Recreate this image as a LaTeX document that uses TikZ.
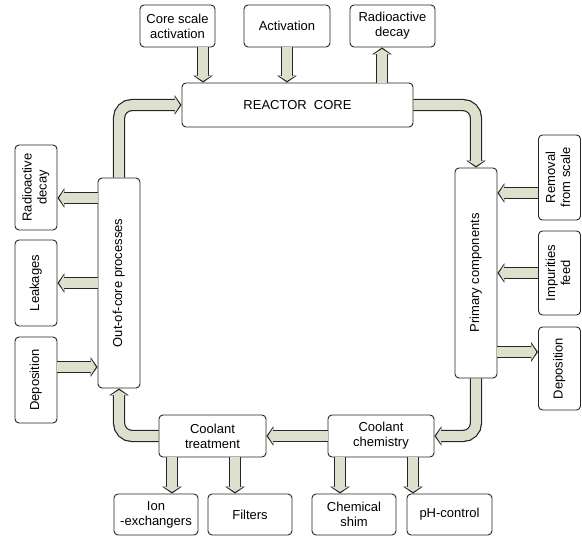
\documentclass[tikz,border=0pt]{standalone}
\usepackage{fontspec}
\setmainfont{Liberation Sans}
\usepackage{graphicx}
\usetikzlibrary{arrows.meta}
\definecolor{flowfill}{RGB}{221,224,204}
\newcommand{\vlab}[1]{\rotatebox{90}{\begin{tabular}{@{}c@{}}#1\end{tabular}}}

\begin{document}
\begin{tikzpicture}[x=1pt,y=-1pt,
		box node/.style={draw=black!85,line width=0.9pt,rounded corners=4pt,fill=white,align=center,inner sep=1pt,font=\fontsize{13}{15}\selectfont},
		flow arrow/.style={draw=flowfill,line width=9.8pt,rounded corners=13pt,shorten >=1.6pt,-{Triangle[width=15.5pt,length=5pt]},
			preaction={draw=black!85,line width=12.2pt,shorten >=0pt,-{Triangle[width=19.5pt,length=7pt]}}}]
		\useasboundingbox (0,0) rectangle (582,538);
		% core and its inputs
		\node[box node,minimum width=231pt,minimum height=44pt] (core) at (297.5,105) {REACTOR\ \ CORE};
		\node[box node,minimum width=75pt,minimum height=42pt] (csa) at (177.5,26) {Core scale\\activation};
		\node[box node,minimum width=86pt,minimum height=42pt] (act) at (287,26) {Activation};
		\node[box node,minimum width=85pt,minimum height=42pt] (rdtop) at (392.5,26) {Radioactive\\decay};
		% primary side
		\node[box node,minimum width=42pt,minimum height=210pt] (prim) at (476,273) {\vlab{Primary components}};
		\node[box node,minimum width=42pt,minimum height=85pt] (removal) at (559.5,177.5) {\vlab{Removal\\from scale}};
		\node[box node,minimum width=42pt,minimum height=84pt] (imp) at (559.5,273) {\vlab{Impurities\\feed}};
		\node[box node,minimum width=42pt,minimum height=83pt] (depR) at (559.5,368.5) {\vlab{Deposition}};
		% out-of-core side
		\node[box node,minimum width=42pt,minimum height=210pt] (outcore) at (119,283) {\vlab{Out-of-core processes}};
		\node[box node,minimum width=42pt,minimum height=85pt] (rdleft) at (36,187.5) {\vlab{Radioactive\\decay}};
		\node[box node,minimum width=42pt,minimum height=86pt] (leak) at (36,283) {\vlab{Leakages}};
		\node[box node,minimum width=42pt,minimum height=86pt] (depL) at (36,380) {\vlab{Deposition}};
		% coolant
		\node[box node,minimum width=107pt,minimum height=42pt] (treat) at (212.5,436) {Coolant\\treatment};
		\node[box node,minimum width=106pt,minimum height=42pt] (chem) at (381,436) {Coolant\\chemistry};
		\node[box node,minimum width=84pt,minimum height=41pt] (ion) at (156,514.5) {Ion\\-exchangers};
		\node[box node,minimum width=84pt,minimum height=41pt] (filt) at (250,514.5) {Filters};
		\node[box node,minimum width=84pt,minimum height=41pt] (shim) at (354,514.5) {Chemical\\shim};
		\node[box node,minimum width=85pt,minimum height=41pt] (ph) at (449.5,514.5) {pH-control};

		\coordinate (lane1) at (203,0);
		\coordinate (lane2) at (382,0);
		\coordinate (lane3) at (172,0);
		\coordinate (lane4) at (235,0);
		\coordinate (lane5) at (340,0);
		\coordinate (lane6) at (413,0);
		\coordinate (row1) at (0,193);
		\coordinate (row2) at (0,352);
		\coordinate (row3) at (0,198);
		\coordinate (row4) at (0,367);

		% main loop
		\draw[flow arrow] (outcore.north) |- (core.west);
		\draw[flow arrow] (core.east) -| (prim.north);
		\draw[flow arrow] (prim.south) |- (chem.east);
		\draw[flow arrow] (chem.west) -- (treat.east);
		\draw[flow arrow] (treat.west) -| (outcore.south);
		% side flows
		\draw[flow arrow] (csa.south -| lane1) -- (core.north -| lane1);
		\draw[flow arrow] (act.south) -- (act.south |- core.north);
		\draw[flow arrow] (core.north -| lane2) -- (rdtop.south -| lane2);
		\draw[flow arrow] (removal.west |- row1) -- (prim.east |- row1);
		\draw[flow arrow] (imp.west) -- (imp.west -| prim.east);
		\draw[flow arrow] (prim.east |- row2) -- (depR.west |- row2);
		\draw[flow arrow] (outcore.west |- row3) -- (rdleft.east |- row3);
		\draw[flow arrow] (outcore.west |- leak.east) -- (leak.east);
		\draw[flow arrow] (depL.east |- row4) -- (outcore.west |- row4);
		\draw[flow arrow] (treat.south -| lane3) -- (ion.north -| lane3);
		\draw[flow arrow] (treat.south -| lane4) -- (filt.north -| lane4);
		\draw[flow arrow] (chem.south -| lane5) -- (shim.north -| lane5);
		\draw[flow arrow] (chem.south -| lane6) -- (ph.north -| lane6);
\end{tikzpicture}
\end{document}
